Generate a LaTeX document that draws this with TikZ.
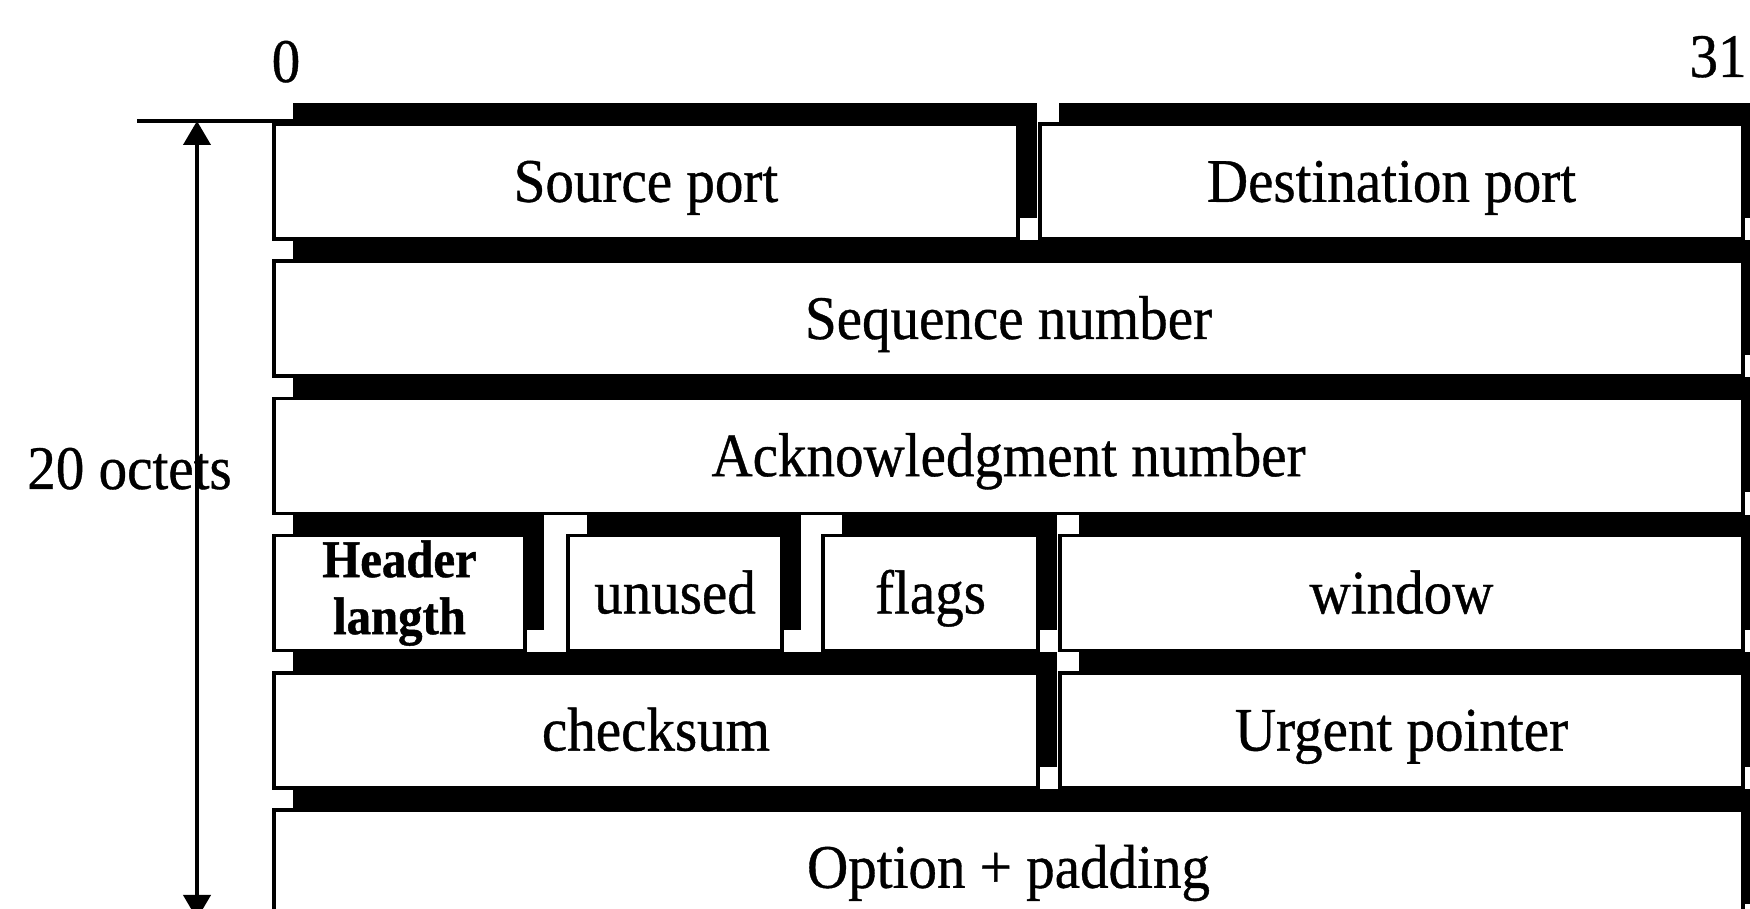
\documentclass[tikz,border=0pt]{standalone}
\usepackage{fontspec}
\setmainfont{Liberation Serif}[FakeStretch=0.92, FakeBold=0.6, BoldFeatures={FakeBold=0.8}]
\usetikzlibrary{arrows.meta,shadows}
\newcommand\lblfont{\fontsize{31pt}{33pt}\selectfont}
\newcommand\hdrfont{\fontsize{26.5pt}{27.5pt}\selectfont\bfseries}
\begin{document}
\begin{tikzpicture}[x=0.5pt,y=0.5pt,
  cell/.style={draw=black, line width=1.75pt, fill=white, rectangle,
    inner sep=0pt, outer sep=0pt, minimum height=57.5pt,
    text height=20.3pt, text depth=0pt, font=\lblfont,
    general shadow={fill=black, shadow xshift=9.5pt, shadow yshift=10.5pt}},
  lbl/.style={inner sep=0pt, font=\lblfont, anchor=base},
  dimline/.style={line width=2pt},
  tipstyle/.style={{Triangle[length=12pt,width=13.5pt]}-{Triangle[length=12pt,width=13.5pt]}}]
\useasboundingbox (0,0) rectangle (1750,909);
\clip (0,0) rectangle (1750,909);
\fill[white] (0,0) rectangle (1750,909);

% row 1
\node[cell, minimum width=372pt] (src) at (646,727.5) {Source port};
\node[cell, minimum width=351.5pt] (dst) at (1391.5,727.5) {Destination port};
% row 2
\node[cell, minimum width=734.5pt] (seq) at (1008.5,590.3) {Sequence number};
% row 3
\node[cell, minimum width=734.5pt] (ack) at (1008.5,453.1) {Acknowledgment number};
% row 4
\node[cell, minimum width=125.5pt, text height=, text depth=, font=\hdrfont, align=center] (hlen) at (399.5,315.9) {Header\\[1pt]langth};
\node[cell, minimum width=107pt] (unused) at (675,315.9) {unused};
\node[cell, minimum width=107.5pt] (flags) at (930.5,315.9) {flags};
\node[cell, minimum width=341.5pt] (win) at (1401.5,315.9) {window};
% row 5
\node[cell, minimum width=382pt] (chk) at (656,178.7) {checksum};
\node[cell, minimum width=341.5pt] (urg) at (1401.5,178.7) {Urgent pointer};
% row 6
\node[cell, minimum width=734.5pt] (opt) at (1008.5,41.5) {Option + padding};

% bit labels
\node[lbl] (b0) at (286,827) {0};
\node[lbl] (b31) at (1718,832) {31};

% dimension
\coordinate (dimL) at (137,788);
\coordinate (dimR) at (294,788);
\draw[dimline] (dimL) -- (dimR);
\coordinate (arrT) at (197,788);
\coordinate (arrB) at (197,-10);
\draw[dimline, tipstyle] (arrT) -- (arrB);
\node[lbl] (oct) at (129.5,420) {20 octets};
\end{tikzpicture}
\end{document}
